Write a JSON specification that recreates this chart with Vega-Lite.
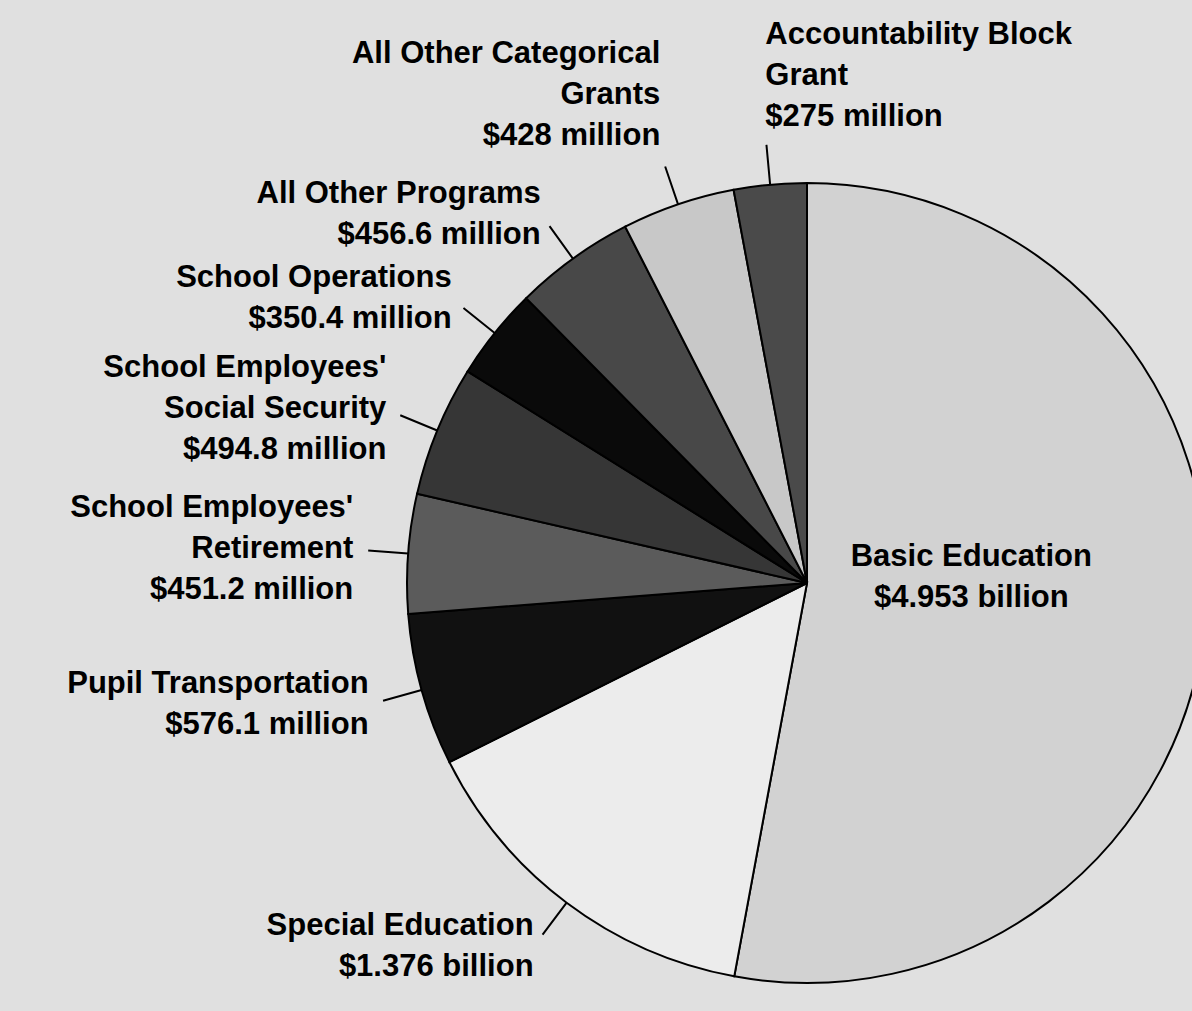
{
  "$schema": "https://vega.github.io/schema/vega-lite/v6.json",
  "width": 770,
  "height": 800,
  "autosize": {"type": "none"},
  "padding": {"left": 422, "top": 183, "right": 0, "bottom": 28},
  "background": "#e0e0e0",
  "config": {"view": {"stroke": null}},
  "data": {
    "values": [
      {"rank": 1, "category": "Basic Education", "amount": 4953, "label": "Basic Education\n$4.953 billion"},
      {"rank": 2, "category": "Special Education", "amount": 1376, "label": "Special Education\n$1.376 billion"},
      {"rank": 3, "category": "Pupil Transportation", "amount": 576.1, "label": "Pupil Transportation\n$576.1 million"},
      {"rank": 4, "category": "School Employees' Retirement", "amount": 451.2, "label": "School Employees'\nRetirement\n$451.2 million"},
      {"rank": 5, "category": "School Employees' Social Security", "amount": 494.8, "label": "School Employees'\nSocial Security\n$494.8 million"},
      {"rank": 6, "category": "School Operations", "amount": 350.4, "label": "School Operations\n$350.4 million"},
      {"rank": 7, "category": "All Other Programs", "amount": 456.6, "label": "All Other Programs\n$456.6 million"},
      {"rank": 8, "category": "All Other Categorical Grants", "amount": 428, "label": "All Other Categorical\nGrants\n$428 million"},
      {"rank": 9, "category": "Accountability Block Grant", "amount": 275, "label": "Accountability Block\nGrant\n$275 million"}
    ]
  },
  "layer": [
    {
      "mark": {"type": "arc", "outerRadius": 400, "stroke": "#000000", "strokeWidth": 2},
      "encoding": {
        "theta": {"field": "amount", "type": "quantitative", "stack": true},
        "order": {"field": "rank", "type": "quantitative"},
        "color": {
          "field": "category",
          "type": "nominal",
          "legend": null,
          "scale": {
            "domain": ["Basic Education", "Special Education", "Pupil Transportation", "School Employees' Retirement", "School Employees' Social Security", "School Operations", "All Other Programs", "All Other Categorical Grants", "Accountability Block Grant"],
            "range": ["#d2d2d2", "#ececec", "#111111", "#5b5b5b", "#363636", "#0a0a0a", "#484848", "#c8c8c8", "#4a4a4a"]
          }
        }
      }
    },
    {
      "mark": {"type": "arc", "innerRadius": 400, "outerRadius": 440, "padAngle": 3.2, "fill": "transparent", "stroke": "#000000", "strokeWidth": 2},
      "encoding": {
        "theta": {"field": "amount", "type": "quantitative", "stack": true},
        "order": {"field": "rank", "type": "quantitative"},
        "detail": {"field": "category", "type": "nominal"},
        "strokeOpacity": {"condition": {"test": "datum.rank === 1", "value": 0}, "value": 1}
      }
    },
    {
      "mark": {"type": "text", "radius": 165, "align": "center", "baseline": "middle", "dy": -41, "font": "Liberation Sans", "fontSize": 31, "fontWeight": "bold", "lineBreak": "\n", "lineHeight": 41, "color": "#000000"},
      "encoding": {
        "theta": {"field": "amount", "type": "quantitative", "stack": true},
        "order": {"field": "rank", "type": "quantitative"},
        "detail": {"field": "category", "type": "nominal"},
        "text": {"condition": {"test": "datum.rank === 1", "field": "label", "type": "nominal"}, "value": ""}
      }
    },
    {
      "mark": {"type": "text", "radius": 455, "align": "right", "baseline": "middle", "dy": -20.5, "font": "Liberation Sans", "fontSize": 31, "fontWeight": "bold", "lineBreak": "\n", "lineHeight": 41, "color": "#000000"},
      "encoding": {
        "theta": {"field": "amount", "type": "quantitative", "stack": true},
        "order": {"field": "rank", "type": "quantitative"},
        "detail": {"field": "category", "type": "nominal"},
        "text": {"condition": {"test": "datum.rank === 2 || datum.rank === 3 || datum.rank === 6 || datum.rank === 7", "field": "label", "type": "nominal"}, "value": ""}
      }
    },
    {
      "mark": {"type": "text", "radius": 455, "align": "right", "baseline": "middle", "dy": -41, "font": "Liberation Sans", "fontSize": 31, "fontWeight": "bold", "lineBreak": "\n", "lineHeight": 41, "color": "#000000"},
      "encoding": {
        "theta": {"field": "amount", "type": "quantitative", "stack": true},
        "order": {"field": "rank", "type": "quantitative"},
        "detail": {"field": "category", "type": "nominal"},
        "text": {"condition": {"test": "datum.rank === 4 || datum.rank === 5", "field": "label", "type": "nominal"}, "value": ""}
      }
    },
    {
      "mark": {"type": "text", "radius": 455, "align": "right", "baseline": "bottom", "dy": -82, "font": "Liberation Sans", "fontSize": 31, "fontWeight": "bold", "lineBreak": "\n", "lineHeight": 41, "color": "#000000"},
      "encoding": {
        "theta": {"field": "amount", "type": "quantitative", "stack": true},
        "order": {"field": "rank", "type": "quantitative"},
        "detail": {"field": "category", "type": "nominal"},
        "text": {"condition": {"test": "datum.rank === 8", "field": "label", "type": "nominal"}, "value": ""}
      }
    },
    {
      "mark": {"type": "text", "radius": 452, "align": "left", "baseline": "bottom", "dy": -82, "font": "Liberation Sans", "fontSize": 31, "fontWeight": "bold", "lineBreak": "\n", "lineHeight": 41, "color": "#000000"},
      "encoding": {
        "theta": {"field": "amount", "type": "quantitative", "stack": true},
        "order": {"field": "rank", "type": "quantitative"},
        "detail": {"field": "category", "type": "nominal"},
        "text": {"condition": {"test": "datum.rank === 9", "field": "label", "type": "nominal"}, "value": ""}
      }
    }
  ]
}
